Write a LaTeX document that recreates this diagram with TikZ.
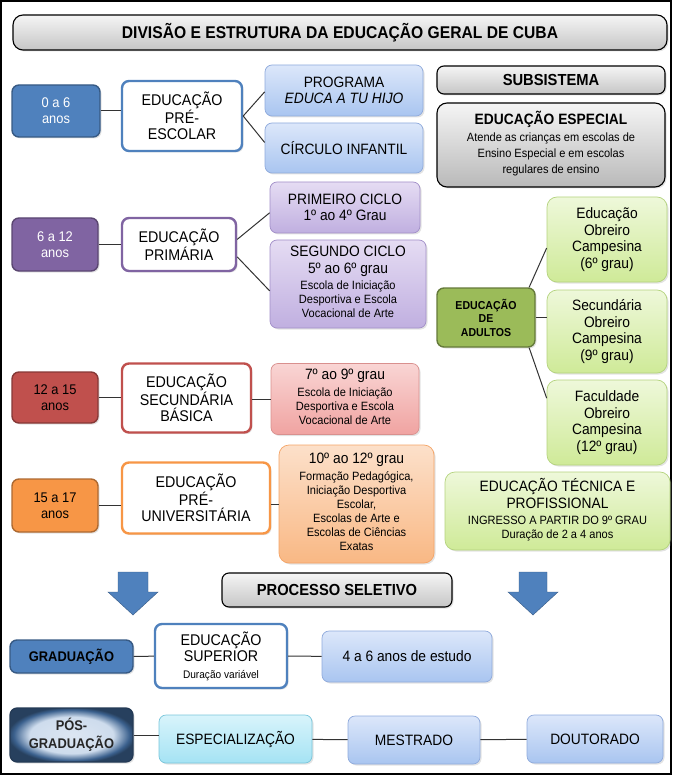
\documentclass[tikz,border=0pt]{standalone}
\usepackage{fontspec}
\setmainfont[FakeStretch=0.92]{Liberation Sans}
\usetikzlibrary{positioning,shadows,calc}

\definecolor{azul}{HTML}{4F81BD}
\definecolor{roxo}{HTML}{8064A2}
\definecolor{vermelho}{HTML}{C0504D}
\definecolor{laranja}{HTML}{F79646}
\definecolor{verde}{HTML}{9BBB59}
\definecolor{linha}{HTML}{333333}
\definecolor{azulA}{HTML}{DCE7FA}
\definecolor{azulB}{HTML}{A9C5F0}
\definecolor{azulC}{HTML}{8FAADC}
\definecolor{roxoA}{HTML}{E5DCF3}
\definecolor{roxoB}{HTML}{C0AFE0}
\definecolor{roxoC}{HTML}{A28FC8}
\definecolor{rosaA}{HTML}{F9D5D4}
\definecolor{rosaB}{HTML}{F0A3A1}
\definecolor{rosaC}{HTML}{D9908E}
\definecolor{pessegoA}{HTML}{FCE0CA}
\definecolor{pessegoB}{HTML}{F9B884}
\definecolor{pessegoC}{HTML}{F5A466}
\definecolor{verdeA}{HTML}{EEF8DA}
\definecolor{verdeB}{HTML}{CFEA98}
\definecolor{verdeC}{HTML}{B4D37E}
\definecolor{cianoA}{HTML}{D8F4FB}
\definecolor{cianoB}{HTML}{A5E3F4}
\definecolor{cianoC}{HTML}{79C6DB}
\newcommand\pequeno[2][14]{{\mdseries\fontsize{12}{#1}\selectfont\begin{tabular}[t]{@{}c@{}}#2\end{tabular}}}
\pgfdeclareradialshading{posgrad}{\pgfpoint{0bp}{0bp}}{color(0bp)=(azul!20); color(17bp)=(azul!28); color(23.5bp)=(azul!75!black); color(26bp)=(azul!50!black); color(50bp)=(azul!50!black)}

\begin{document}
\begin{tikzpicture}[
			x=1pt, y=-1pt,
			box/.style = {rounded corners=7pt, align=center, inner sep=1pt, text=black},
			sombra/.style = {drop shadow={opacity=0.22, shadow xshift=1.5pt, shadow yshift=-1.5pt}},
			idade/.style = {box, draw=#1!70!black, fill=#1, line width=1.4pt, sombra,
				minimum width=86pt, minimum height=52pt, font=\fontsize{14}{16}\selectfont},
			nivel/.style = {box, draw=#1, fill=white, line width=2.4pt, sombra,
				font=\fontsize{15.5}{16.5}\selectfont},
			det/.style = {box, draw=#1C, top color=#1A, bottom color=#1B, line width=0.7pt, sombra,
				font=\fontsize{15}{16.5}\selectfont},
			cinza/.style = {box, draw=black, line width=1.1pt, top color=gray!8, bottom color=gray!45, sombra,
				font=\bfseries\fontsize{16}{18}\selectfont},
			liga/.style = {draw=linha, line width=1pt}
		]
		\useasboundingbox (0,0) rectangle (672,775);
		\draw[line width=2pt] (1,1) rectangle (671,774);
		% Title and subsystem boxes.
		\node[cinza, minimum width=654pt, minimum height=35pt, rounded corners=10pt,
			font=\bfseries\fontsize{17}{19}\selectfont] (tit) at (340,32.5) {DIVISÃO E ESTRUTURA DA EDUCAÇÃO GERAL DE CUBA};
		\node[cinza, minimum width=228pt, minimum height=28pt] (sub) at (551,80) {SUBSISTEMA};
		\node[cinza, minimum width=228pt, minimum height=84pt, rounded corners=10pt, bottom color=gray!55,
			font=\bfseries\fontsize{15}{17}\selectfont] (esp) at (551,145)
			{EDUCAÇÃO ESPECIAL\\ \pequeno[16]{Atende as crianças em escolas de\\Ensino Especial e em escolas\\regulares de ensino}};
		% Pre-school.
		\node[idade=azul, text=white, minimum width=88pt] (i0) at (56,111) {0 a 6\\anos};
		\node[nivel=azul, minimum width=120pt, minimum height=70pt] (pre) at (182,116) {EDUCAÇÃO\\PRÉ-\\ESCOLAR};
		\node[det=azul, minimum width=158pt, minimum height=51pt] (prog) at (344,90.5) {PROGRAMA\\\textit{EDUCA A TU HIJO}};
		\node[det=azul, minimum width=158pt, minimum height=50pt] (circ) at (344,148) {CÍRCULO INFANTIL};
		% Primary.
		\node[idade=roxo, text=white, minimum height=53pt] (i6) at (55,244.5) {6 a 12\\anos};
		\node[nivel=roxo, minimum width=114pt, minimum height=53pt] (prim) at (179,244.5) {EDUCAÇÃO\\PRIMÁRIA};
		\node[det=roxo, minimum width=150pt, minimum height=51pt] (c1) at (345,207.5) {PRIMEIRO CICLO\\1º ao 4º Grau};
		\node[det=roxo, minimum width=156pt, minimum height=88pt] (c2) at (348,284)
			{SEGUNDO CICLO\\5º ao 6º grau\\ \pequeno{Escola de Iniciação\\Desportiva e Escola\\Vocacional de Arte}};
		% Basic secondary.
		\node[idade=vermelho, minimum height=51pt] (i12) at (55,397.5) {12 a 15\\anos};
		\node[nivel=vermelho, minimum width=129pt, minimum height=69pt] (sec) at (186.5,398) {EDUCAÇÃO\\SECUNDÁRIA\\BÁSICA};
		\node[det=rosa, minimum width=148pt, minimum height=71pt] (sd) at (345,399)
			{7º ao 9º grau\\ \pequeno{Escola de Iniciação\\Desportiva e Escola\\Vocacional de Arte}};
		% Pre-university.
		\node[idade=laranja, minimum height=53pt] (i15) at (55,505.5) {15 a 17\\anos};
		\node[nivel=laranja, minimum width=148pt, minimum height=71pt] (preu) at (196,498) {EDUCAÇÃO\\PRÉ-\\UNIVERSITÁRIA};
		\node[det=pessego, minimum width=155pt, minimum height=118pt, rounded corners=10pt] (pd) at (356.5,504)
			{10º ao 12º grau\\ \pequeno{Formação Pedagógica,\\Iniciação Desportiva\\Escolar,\\Escolas de Arte e\\Escolas de Ciências\\Exatas}};
		% Adult education.
		\node[box, draw=verde!65!black, fill=verde, line width=1.4pt, sombra, minimum width=98pt, minimum height=59pt,
			font=\bfseries\fontsize{11.5}{13.5}\selectfont] (ad) at (486,317.5) {EDUCAÇÃO\\DE\\ADULTOS};
		\node[det=verde, minimum width=120pt, minimum height=85pt, rounded corners=10pt] (oc6) at (607,239.5) {Educação\\Obreiro\\Campesina\\(6º grau)};
		\node[det=verde, minimum width=120pt, minimum height=83pt, rounded corners=10pt] (oc9) at (607,331.5) {Secundária\\Obreiro\\Campesina\\(9º grau)};
		\node[det=verde, minimum width=120pt, minimum height=85pt, rounded corners=10pt] (oc12) at (607,422.5) {Faculdade\\Obreiro\\Campesina\\(12º grau)};
		\node[det=verde, minimum width=225pt, minimum height=78pt, rounded corners=10pt] (tec) at (557.5,511)
			{EDUCAÇÃO TÉCNICA E\\PROFISSIONAL\\ \pequeno{INGRESSO A PARTIR DO 9º GRAU\\Duração de 2 a 4 anos}};
		% Higher education.
		\fill[azul, draw=azul!70!black] (118,572) -- (148,572) -- (148,592) -- (158,592) -- (133,615) -- (108,592) -- (118,592) -- cycle;
		\fill[azul, draw=azul!70!black] (519,572) -- (547,572) -- (547,592) -- (558,592) -- (533,615) -- (508,592) -- (519,592) -- cycle;
		\node[cinza, minimum width=230pt, minimum height=34pt] (proc) at (337,590) {PROCESSO SELETIVO};
		\node[box, draw=azul!70!black, fill=azul, line width=1.4pt, sombra, minimum width=123pt, minimum height=33pt,
			font=\bfseries\fontsize{14}{16}\selectfont] (grad) at (71.5,656.5) {GRADUAÇÃO};
		\node[nivel=azul, minimum width=132pt, minimum height=64pt] (sup) at (221,656) {EDUCAÇÃO\\SUPERIOR\\ \fontsize{11}{13}\selectfont Duração variável};
		\node[det=azul, minimum width=170pt, minimum height=51pt] (anos) at (407,656.5) {4 a 6 anos de estudo};
		\node[box, draw=azul!45!black, shading=posgrad, line width=1.2pt, sombra, text=black!85,
			minimum width=123pt, minimum height=54pt, font=\bfseries\fontsize{14}{18}\selectfont] (pos) at (71.5,735) {PÓS-\\GRADUAÇÃO};
		\node[det=ciano, minimum width=153pt, minimum height=48pt] (espz) at (235.5,739) {ESPECIALIZAÇÃO};
		\node[det=azul, minimum width=132pt, minimum height=48pt] (mest) at (414,740) {MESTRADO};
		\node[det=azul, minimum width=136pt, minimum height=48pt] (dout) at (595,739) {DOUTORADO};
		% Draw the links.
		\draw[liga] (i0) -- (i0 -| pre.west);
		\draw[liga] (pre.east) -- (prog.181);
		\draw[liga] (pre.east) -- (circ.176);
		\draw[liga] (i6) -- (prim);
		\draw[liga] (prim.5) -- (c1.184);
		\draw[liga] (prim.-12) -- (c2.185);
		\draw[liga] (i12) -- (i12 -| sec.west);
		\draw[liga] (sec.east |- sd) -- (sd.west);
		\draw[liga] (i15.east) -- (i15.east -| preu.west);
		\draw[liga] (preu.east |- pd) -- (pd.west);
		\draw[liga] (ad.35) -- (oc6.188);
		\draw[liga] (ad.east) -- (ad.east -| oc9.west);
		\draw[liga] (ad.-35) -- (oc12.158);
		\draw[liga] (grad) -- (sup);
		\draw[liga] (sup) -- (anos);
		\draw[liga] (pos) -- (pos -| espz.west);
		\draw[liga] (espz) -- (mest);
		\draw[liga] (mest) -- (dout);
	\end{tikzpicture}
\end{document}
